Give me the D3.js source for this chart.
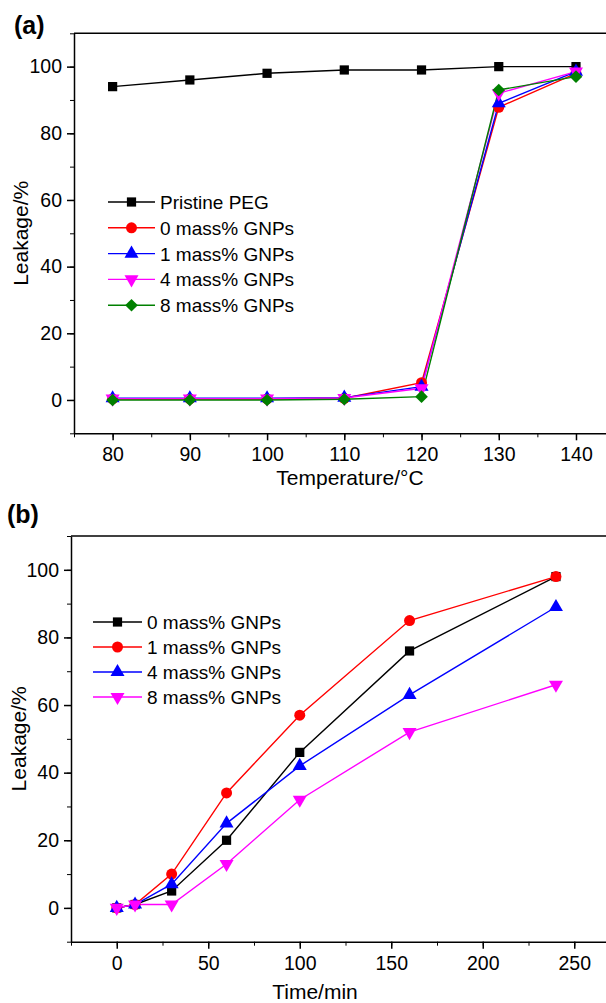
<!DOCTYPE html>
<html>
<head>
<meta charset="utf-8">
<script src="https://cdn.jsdelivr.net/npm/d3@7"></script>
<style>
  body { margin: 0; background: #fff; }
  svg { display: block; font-family: "Liberation Sans", Arial, sans-serif; }
</style>
</head>
<body>
<svg id="chart" width="606" height="1003"></svg>
<script>
// ---- panel (a) data: leakage vs temperature
const tempX = [80, 90, 100, 110, 120, 130, 140];
const aNames = ['Pristine PEG', '0 mass% GNPs', '1 mass% GNPs', '4 mass% GNPs', '8 mass% GNPs'];
const aPristine = [94, 96, 98, 99, 99, 100, 100];
const aGnp0 = [0.3, 0.3, 0.3, 0.5, 5.2, 87.8, 98];
const aGnp1 = [0.5, 0.5, 0.5, 0.7, 4, 89, 98.5];
const aGnp4 = [0.4, 0.4, 0.4, 0.6, 3.5, 92, 98.5];
const aGnp8 = [0, 0, 0, 0.2, 1, 93, 97];
const aXTicks = [80, 90, 100, 110, 120, 130, 140];
const aYTicks = [0, 20, 40, 60, 80, 100];

// ---- panel (b) data: leakage vs time
const timeX = [0, 10, 30, 60, 100, 160, 240];
const bNames = ['0 mass% GNPs', '1 mass% GNPs', '4 mass% GNPs', '8 mass% GNPs'];
const bGnp0 = [0, 1, 5, 20, 46, 76, 98];
const bGnp1 = [0, 1, 10, 34, 57, 85, 98];
const bGnp4 = [0, 1, 7, 25, 42, 63, 89];
const bGnp8 = [0, 1, 1, 13, 32, 52, 66];
const bXTicks = [0, 50, 100, 150, 200, 250];
const bYTicks = [0, 20, 40, 60, 80, 100];

const svg = d3.select('#chart');

// marker symbols (diamond = rotated square, like Origin)
const symbolOf = {
  square: d3.symbol().type(d3.symbolSquare).size(85),
  circle: d3.symbol().type(d3.symbolCircle).size(95),
  up: d3.symbol().type(d3.symbolTriangle).size(85),
  down: d3.symbol().type(d3.symbolTriangle).size(85),
  diamond: d3.symbol().type(d3.symbolSquare).size(80)
};
function drawMarker(g, shape, color, x, y) {
  let rot = '';
  if (shape === 'down') rot = ' rotate(180)';
  if (shape === 'diamond') rot = ' rotate(45)';
  g.append('path')
    .attr('d', symbolOf[shape]())
    .attr('fill', color)
    .attr('transform', 'translate(' + x + ',' + y + ')' + rot);
}

function drawPanel(p) {
  const x = d3.scaleLinear().domain(p.xDomain).range([p.left, p.right]);
  const y = d3.scaleLinear().domain([-10, 110]).range([p.bottom, p.top]);
  const g = svg.append('g');

  // frame (top line), right side falls off the image
  g.append('line').attr('x1', p.left).attr('x2', 620).attr('y1', p.top).attr('y2', p.top)
    .attr('stroke', '#000').attr('stroke-width', 1.5);

  // minor ticks
  const xMinor = d3.range(p.xDomain[0], p.xDomain[1] + 0.001, p.xMinorStep);
  const yMinor = d3.range(-10, 110.001, 10);
  g.append('g').attr('transform', 'translate(0,' + p.bottom + ')')
    .call(d3.axisBottom(x).tickValues(xMinor).tickSize(4).tickFormat(''))
    .call(a => a.select('.domain').remove());
  g.append('g').attr('transform', 'translate(' + p.left + ',0)')
    .call(d3.axisLeft(y).tickValues(yMinor).tickSize(4).tickFormat(''))
    .call(a => a.select('.domain').remove());

  // major axes
  const xa = g.append('g').attr('transform', 'translate(0,' + p.bottom + ')')
    .call(d3.axisBottom(x).tickValues(p.xTicks).tickSize(7).tickPadding(7).tickSizeOuter(0));
  const ya = g.append('g').attr('transform', 'translate(' + p.left + ',0)')
    .call(d3.axisLeft(y).tickValues(p.yTicks).tickSize(7).tickPadding(5).tickSizeOuter(0));
  xa.select('.domain').attr('d', 'M' + p.left + ',0.5H620');
  [xa, ya].forEach(a => {
    a.selectAll('line, path').attr('stroke-width', 1.5);
    a.selectAll('text').attr('font-size', 19.5).attr('fill', '#000')
      .attr('font-family', '"Liberation Sans", Arial, sans-serif');
  });

  // axis titles
  g.append('text').attr('x', p.xTitleX).attr('y', p.xTitleY).attr('text-anchor', 'middle')
    .attr('font-size', 21).text(p.xTitle);
  g.append('text').attr('transform', 'translate(' + p.yTitleX + ',' + ((p.top + p.bottom) / 2) + ') rotate(-90)')
    .attr('text-anchor', 'middle').attr('font-size', 21).text('Leakage/%');

  // panel label
  g.append('text').attr('x', p.labelX).attr('y', p.labelY).attr('font-size', 25)
    .attr('font-weight', 'bold').text(p.label);

  const line = d3.line().x((d, i) => x(p.xs[i])).y(d => y(d));
  p.series.forEach(s => {
    g.append('path').datum(s.values).attr('d', line)
      .attr('fill', 'none').attr('stroke', s.color).attr('stroke-width', 1.4);
  });
  p.series.forEach(s => {
    s.values.forEach((v, i) => drawMarker(g, s.shape, s.color, x(p.xs[i]), y(v)));
  });

  // legend
  p.series.forEach((s, i) => {
    const ly = p.legY + i * p.legStep;
    g.append('line').attr('x1', p.legX0).attr('x2', p.legX1).attr('y1', ly).attr('y2', ly)
      .attr('stroke', s.color).attr('stroke-width', 1.4);
    drawMarker(g, s.shape, s.color, (p.legX0 + p.legX1) / 2, ly);
    g.append('text').attr('x', p.legX1 + 5).attr('y', ly + 7).attr('font-size', 19).text(s.name);
  });
}

drawPanel({
  label: '(a)', labelX: 14, labelY: 34,
  left: 74, right: 614.6, top: 33.3, bottom: 433.3,
  xDomain: [75, 145], xMinorStep: 5, xTicks: aXTicks, yTicks: aYTicks,
  xs: tempX, xTitle: 'Temperature/°C', xTitleX: 350, xTitleY: 485, yTitleX: 28,
  legX0: 108, legX1: 155, legY: 202, legStep: 25.8,
  series: [
    { name: aNames[0], values: aPristine, color: '#000000', shape: 'square' },
    { name: aNames[1], values: aGnp0, color: '#ff0000', shape: 'circle' },
    { name: aNames[2], values: aGnp1, color: '#0000ff', shape: 'up' },
    { name: aNames[3], values: aGnp4, color: '#ff00ff', shape: 'down' },
    { name: aNames[4], values: aGnp8, color: '#008000', shape: 'diamond' }
  ]
});

drawPanel({
  label: '(b)', labelX: 7, labelY: 523,
  left: 71, right: 620, top: 536, bottom: 941.7,
  xDomain: [-25, 275], xMinorStep: 25, xTicks: bXTicks, yTicks: bYTicks,
  xs: timeX, xTitle: 'Time/min', xTitleX: 315, xTitleY: 999, yTitleX: 26,
  legX0: 93, legX1: 142, legY: 622, legStep: 25,
  series: [
    { name: bNames[0], values: bGnp0, color: '#000000', shape: 'square' },
    { name: bNames[1], values: bGnp1, color: '#ff0000', shape: 'circle' },
    { name: bNames[2], values: bGnp4, color: '#0000ff', shape: 'up' },
    { name: bNames[3], values: bGnp8, color: '#ff00ff', shape: 'down' }
  ]
});
</script>
</body>
</html>
